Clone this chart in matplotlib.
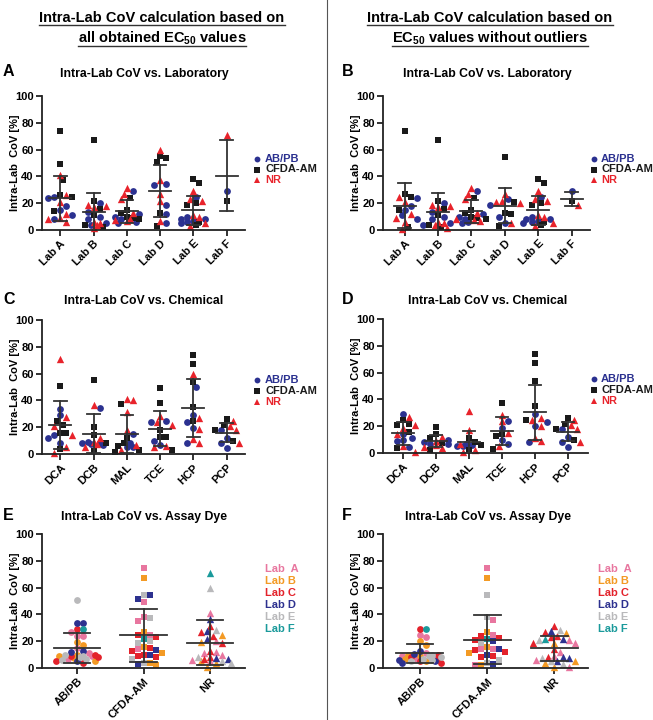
import numpy as np
import matplotlib
matplotlib.use("Agg")
import matplotlib.pyplot as plt
from matplotlib.lines import Line2D

plt.rcParams["font.family"] = ["Liberation Sans", "DejaVu Sans"]
plt.rcParams["font.weight"] = "bold"
plt.rcParams["mathtext.default"] = "regular"

W, H = 653, 720

LABS = ["Lab A", "Lab B", "Lab C", "Lab D", "Lab E", "Lab F"]
CHEMS = ["DCA", "DCB", "MAL", "TCE", "HCP", "PCP"]
DYES = ["AB/PB", "CFDA-AM", "NR"]
LEGEND_LABS = ["Lab  A", "Lab B", "Lab C", "Lab D", "Lab E", "Lab F"]

# panel A: all values, grouped by lab (one list per lab)
A_ABPB = [[24, 18, 15, 11, 8.5, 25], [20, 13.5, 8, 5, 10, 4], [29, 12, 10, 6, 8, 5.5],
          [34, 33.5, 18.5, 12, 5], [25, 9.5, 8.5, 6, 8.5, 5, 7], [29]]
A_CFDA = [[74, 49, 37, 26, 25, 14.5], [67, 22, 15.5, 11, 4, 2.5], [24, 15, 12.5, 9, 8, 10],
          [55, 54, 51, 13, 3], [38, 35, 20, 19, 4, 6], [22]]
A_NR = [[41, 26, 21, 12, 9, 6, 8], [19, 18, 17, 5, 4, 1.5, 6], [31, 27, 23, 13, 8, 7, 7.5],
        [60, 37, 27, 22, 7], [29, 22, 23, 11, 5, 3, 10], [71]]

# panel B: without outliers, grouped by lab
B_ABPB = [[24, 18, 15, 11, 8.5], [20, 13.5, 8, 5, 10, 4], [29, 12, 10, 6, 8, 5.5],
          [23, 19, 10, 5], [25, 9.5, 8.5, 6, 8.5, 5, 7], [29]]
B_CFDA = [[74, 26.5, 25, 15, 2], [67, 22, 15.5, 11, 4, 2.5], [24, 15, 12.5, 9, 8, 10],
          [54.5, 21, 13, 12, 3], [38, 35, 20, 19, 4, 6], [22]]
B_NR = [[25, 21, 12, 9, 6, 0.5], [19, 18, 17, 5, 4, 1.5, 6], [31, 27, 23, 13, 8, 7, 7.5],
        [27, 22, 21, 20, 5], [29, 22, 23, 11, 5, 3, 10], [19]]

# panel C: all values, grouped by chemical
C_ABPB = [[33.5, 29, 14, 12, 8.5], [34, 9, 8, 7.5, 7, 8], [15, 8, 5, 5.5],
          [25, 24, 10, 6.5], [50, 29, 24, 19.5, 8], [18, 12, 8.5, 4.5]]
C_CFDA = [[51, 25, 22, 16, 15.5, 4], [55, 20, 14, 8.5, 2.5], [37.5, 12, 8, 6, 3, 1.5],
          [49.5, 38, 18, 13, 12.5, 3], [74, 67, 54, 35, 24.5], [26, 22, 18, 9.5]]
C_NR = [[71, 27.5, 21, 14, 5, 1], [36.5, 12, 9, 5, 7.5], [41, 40, 31, 18, 7, 3],
        [28, 24, 22, 6, 5.5], [60, 26.5, 19, 11.5, 8.5], [25, 21, 18, 8]]

# panel D: without outliers, grouped by chemical
D_ABPB = [[29, 14, 11.5, 9, 4.5, 9.5], [10, 8, 6.5, 7], [6, 5.5, 5, 7],
          [24, 18.5, 9.5, 6.5], [29, 23, 20, 8], [18, 12, 8.5, 4.5]]
D_CFDA = [[24.5, 22, 21, 15.5, 4], [19.5, 14, 11.5, 7.5, 2.5], [11, 8, 6, 2.5],
          [37.5, 14, 12.5, 3], [74, 67, 54, 35, 24.5], [26, 22, 18, 9.5]]
D_NR = [[27, 21, 19, 14, 5, 1], [12, 9, 6, 4, 4.5], [31, 17.5, 6.5, 2, 0.5],
        [28.5, 24, 15, 5.5], [26, 25, 20, 11, 9], [25, 21, 18, 8]]

# panel E: all values, grouped by dye, one list per lab
E_ABPB = [[26.5, 24, 24, 15, 11, 7, 9], [19.5, 17.5, 10, 9, 7.5, 5], [29, 9.5, 8.5, 5.5, 4, 9],
          [33.5, 33.5, 12.5, 12, 5], [50.5, 10, 9, 8, 6, 7], [29]]
E_CFDA = [[74.5, 49.5, 38, 35, 25, 14.5], [67, 27, 15.5, 11.5, 3.5, 2], [24.5, 23, 15, 12.5, 10, 8, 9],
          [54.5, 51.5, 13.5, 10, 3], [54.5, 37.5, 20, 19, 6.5, 4], [22]]
E_NR = [[41, 20, 12, 11.5, 9.5, 5, 6], [25, 19.5, 5, 4, 1], [31.5, 27, 24, 18.5, 7, 8.5, 13],
        [36.5, 27.5, 22, 7.5, 6.5], [60, 28.5, 8, 3.5, 5], [71]]

# panel F: without outliers, grouped by dye, one list per lab
F_ABPB = [[24.5, 23.5, 11, 8.5, 7, 9], [20, 17.5, 9, 6.5, 5, 10], [29, 9.5, 8.5, 5.5, 4, 6],
          [12.5, 10.5, 5, 4, 6], [10, 9, 7, 6, 5.5, 8], [29]]
F_CFDA = [[74.5, 36, 25, 14.5, 14, 2], [67, 26.5, 15.5, 11.5, 2], [22.5, 21, 13.5, 12, 8, 9, 24],
          [20.5, 14, 10, 3], [54.5, 38, 19, 6, 4], [21.5]]
F_NR = [[21, 19, 12, 9, 6, 0.5], [26, 19, 5.5, 4, 1], [31.5, 27, 24, 23, 18.5, 14.5, 8],
        [27.5, 22, 8, 7.5, 5], [28.5, 21, 7.5, 3, 5], [22]]

DYE_COLORS = ["#2b3190", "#1a1a1a", "#e8232b"]
DYE_MARKERS = ["o", "s", "^"]
LAB_COLORS = ["#e8769f", "#f39a24", "#e3222b", "#2d318f", "#b9b9bb", "#1a9a9b"]
BAR_COLOR = "#333333"


def add_ax(fig, left, right, top, bottom):
    return fig.add_axes([left / W, 1 - bottom / H, (right - left) / W, (bottom - top) / H])


def swarm(vals, ppx, ppy, d=6.0, max_off=15.0):
    # simple beeswarm in pixel space, offsets kept within +-max_off px
    vals = np.asarray(vals, dtype=float)
    offs = np.zeros(len(vals))
    placed = []
    step = d * 0.5
    cands = [0.0]
    k = 1
    while k * step <= max_off:
        cands += [k * step, -k * step]
        k += 1
    for i in np.argsort(-vals):
        y = vals[i] * ppy
        best, best_d = 0.0, -1.0
        for c in cands:
            md = min([np.hypot(c - px, y - py) for px, py in placed] or [1e9])
            if md >= d:
                best = c
                break
            if md > best_d:
                best, best_d = c, md
        placed.append((best, y))
        offs[i] = best / ppx
    return offs


def style(ax, labels, xlim, box):
    left, right, top, bottom = box
    ax.set_xlim(*xlim)
    ax.set_ylim(0, 100)
    for s in ["top", "right"]:
        ax.spines[s].set_visible(False)
    for s in ["left", "bottom"]:
        ax.spines[s].set_linewidth(1.3)
        ax.spines[s].set_color("#222222")
    ax.set_yticks(range(0, 101, 20))
    ax.set_xticks(range(len(labels)))
    ax.set_xticklabels(labels, rotation=45, ha="right", rotation_mode="anchor")
    ax.tick_params(direction="out", length=4, width=1.3, color="#222222",
                   labelsize=8, pad=2)
    for t in ax.get_yticklabels() + ax.get_xticklabels():
        t.set_fontweight("bold")
    ax.patch.set_alpha(0)
    ax.figure.text((left - 27) / W, 1 - (top + bottom) / 2 / H, "Intra-Lab  CoV [%]",
                   rotation=90, ha="center", va="center", fontsize=8, fontweight="bold")


def error_bar(ax, x, vals, mean_hw, cap_hw):
    vals = np.asarray(vals, dtype=float)
    mu = vals.mean()
    sd = vals.std(ddof=1) if len(vals) > 1 else 0
    ax.plot([x - mean_hw, x + mean_hw], [mu, mu], color=BAR_COLOR, lw=1.3, zorder=3)
    ax.plot([x, x], [mu - sd, mu + sd], color=BAR_COLOR, lw=1.3, zorder=3)
    for yy in (mu - sd, mu + sd):
        ax.plot([x - cap_hw, x + cap_hw], [yy, yy], color=BAR_COLOR, lw=1.3, zorder=3)


def draw_panel(fig, box, labels, xlim, groups):
    # groups: list over dyes of list over categories of values
    left, right, top, bottom = box
    ax = add_ax(fig, left, right, top, bottom)
    ppx = (right - left) / (xlim[1] - xlim[0])
    ppy = (bottom - top) / 100.0
    for ci in range(len(labels)):
        vals = np.array([v for series in groups for v in series[ci]], dtype=float)
        keys = np.array([si for si, series in enumerate(groups) for _ in series[ci]])
        offs = swarm(vals, ppx, ppy, max_off=0.45 * ppx)
        for si in range(len(groups)):
            m = keys == si
            if not m.any():
                continue
            ax.scatter(ci + offs[m], vals[m], marker=DYE_MARKERS[si],
                       s=24 if si != 2 else 28, color=DYE_COLORS[si], linewidths=0,
                       zorder=2, clip_on=False)
        error_bar(ax, ci, vals, 0.33, 0.19)
    style(ax, labels, xlim, box)
    return ax


def draw_dye_panel(fig, box, xlim, ab, cf, nr):
    left, right, top, bottom = box
    ax = add_ax(fig, left, right, top, bottom)
    ppx = (right - left) / (xlim[1] - xlim[0])
    ppy = (bottom - top) / 100.0
    for di, dye_lists in enumerate([ab, cf, nr]):
        vals = np.array([v for lst in dye_lists for v in lst], dtype=float)
        labs = np.array([li for li, lst in enumerate(dye_lists) for _ in lst])
        offs = swarm(vals, ppx, ppy, max_off=0.34 * ppx)
        for li in range(len(LABS)):
            m = labs == li
            ax.scatter(di + offs[m], vals[m], marker=DYE_MARKERS[di],
                       s=24 if di != 2 else 28, color=LAB_COLORS[li], linewidths=0,
                       zorder=2, clip_on=False)
        error_bar(ax, di, vals, 0.35, 0.2)
    style(ax, DYES, xlim, box)
    return ax


def fig_text(fig, x, y, s, **kw):
    return fig.text(x / W, 1 - y / H, s, **kw)


def legend(fig, x_marker, x_text, ys, labels, markers, colors):
    for y, lab, mk, col in zip(ys, labels, markers, colors):
        if mk is not None:
            fig.add_artist(Line2D([x_marker / W], [1 - y / H], transform=fig.transFigure,
                                  marker=mk, ls="none", color=col,
                                  markersize=4.2 if mk != "^" else 4.8,
                                  markeredgewidth=0))
        fig_text(fig, x_text, y, lab, ha="left", va="center", fontsize=8,
                 fontweight="bold", color=col)


fig = plt.figure(figsize=(W / 100, H / 100), dpi=100)

# divider
fig.add_artist(Line2D([327 / W, 327 / W], [0, 1], transform=fig.transFigure,
                      color="#555555", lw=0.8))

# headers
headers = [
    fig_text(fig, 162, 18, "Intra-Lab CoV calculation based on", ha="center",
             va="center", fontsize=10.5, fontweight="bold"),
    fig_text(fig, 162, 38, "all obtained EC$_{50}$ values", ha="center",
             va="center", fontsize=10.5, fontweight="bold"),
    fig_text(fig, 490, 18, "Intra-Lab CoV calculation based on", ha="center",
             va="center", fontsize=10.5, fontweight="bold"),
    fig_text(fig, 490, 38, "EC$_{50}$ values without outliers", ha="center",
             va="center", fontsize=10.5, fontweight="bold"),
]

boxes = {
    "A": (42, 245, 96, 230), "B": (383, 590, 96, 230),
    "C": (42, 245, 320, 454), "D": (383, 588, 319, 453),
    "E": (42, 245, 534, 668), "F": (383, 588, 534, 668),
}

draw_panel(fig, boxes["A"], LABS, (-0.55, 5.55), [A_ABPB, A_CFDA, A_NR])
draw_panel(fig, boxes["B"], LABS, (-0.65, 5.55), [B_ABPB, B_CFDA, B_NR])
draw_panel(fig, boxes["C"], CHEMS, (-0.55, 5.55), [C_ABPB, C_CFDA, C_NR])
draw_panel(fig, boxes["D"], CHEMS, (-0.6, 5.6), [D_ABPB, D_CFDA, D_NR])
draw_dye_panel(fig, boxes["E"], (-0.53, 2.53), E_ABPB, E_CFDA, E_NR)
draw_dye_panel(fig, boxes["F"], (-0.55, 2.5), F_ABPB, F_CFDA, F_NR)

# panel letters and titles
letters = {"A": (3, 72), "B": (342, 72), "C": (3, 299), "D": (342, 299),
           "E": (3, 515), "F": (342, 515)}
titles = {"A": "Intra-Lab CoV vs. Laboratory", "B": "Intra-Lab CoV vs. Laboratory",
          "C": "Intra-Lab CoV vs. Chemical", "D": "Intra-Lab CoV vs. Chemical",
          "E": "Intra-Lab CoV vs. Assay Dye", "F": "Intra-Lab CoV vs. Assay Dye"}
title_x = {"A": 144, "B": 487, "C": 144, "D": 488, "E": 144, "F": 488}
for k, (x, y) in letters.items():
    fig_text(fig, x, y, k, ha="left", va="center", fontsize=11.5, fontweight="bold")
    fig_text(fig, title_x[k], y + 2, titles[k], ha="center", va="center", fontsize=8.8,
             fontweight="bold")

# legends
legend(fig, 257, 265, (159, 169.5, 180), DYES, DYE_MARKERS, DYE_COLORS)
legend(fig, 257, 265, (380, 391, 402), DYES, DYE_MARKERS, DYE_COLORS)
legend(fig, 594, 601, (159, 169.5, 180), DYES, DYE_MARKERS, DYE_COLORS)
legend(fig, 594, 601, (379, 390, 401), DYES, DYE_MARKERS, DYE_COLORS)
lab_ys = [569 + 12 * i for i in range(6)]
legend(fig, 0, 265, lab_ys, LEGEND_LABS, [None] * 6, LAB_COLORS)
legend(fig, 0, 598, lab_ys, LEGEND_LABS, [None] * 6, LAB_COLORS)

# underline the headers
fig.canvas.draw()
r = fig.canvas.get_renderer()
for t in headers:
    bb = t.get_window_extent(r)
    y = bb.y0 + 0.5
    fig.add_artist(Line2D([bb.x0 / W, bb.x1 / W], [y / H, y / H], transform=fig.transFigure,
                          color="#333333", lw=1.0))

fig.savefig("out.png", dpi=100)
